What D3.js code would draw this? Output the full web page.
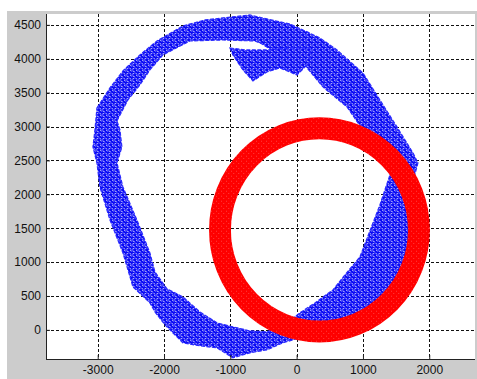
<!DOCTYPE html>
<html>
<head>
<meta charset="utf-8">
<script src="https://cdn.jsdelivr.net/npm/d3@7"></script>
<style>
  body { margin: 0; background: #fff; }
  svg { display: block; }
  .tick text { font-family: "Liberation Sans", Arial, sans-serif; font-size: 12px; fill: #111; }
</style>
</head>
<body>
<svg id="chart" width="477" height="379"></svg>
<script>
// axis ticks
const xTicks = [-3000, -2000, -1000, 0, 1000, 2000];
const yTicks = [0, 500, 1000, 1500, 2000, 2500, 3000, 3500, 4000, 4500];

// blue trajectory band: outer and inner outline of the loop
const loopOuter = [
  [-3012, 3274], [-2816, 3569], [-2620, 3820], [-2364, 4056], [-2107, 4262], [-1715, 4484],
  [-1383, 4572], [-1112, 4602], [-704, 4646], [-448, 4587], [-101, 4513], [95, 4425],
  [351, 4307], [608, 4130], [1000, 3790], [1256, 3392], [1513, 2994], [1754, 2611],
  [1830, 2463], [1739, 2139], [1709, 1475], [1633, 1032], [1513, 590], [1256, 354],
  [955, 206], [548, 118], [201, -74], [-56, -147], [-207, -192], [-448, -295],
  [-704, -339], [-961, -413], [-1202, -265], [-1459, -236], [-1715, -192], [-1986, 74],
  [-2137, 265], [-2213, 398], [-2469, 634], [-2620, 1136], [-2816, 1622], [-2967, 2109],
  [-3012, 2463], [-3072, 2699], [-3042, 2950]
];
const loopInner = [
  [-2710, 3083], [-2545, 3392], [-2364, 3613], [-2213, 3835], [-2017, 4056], [-1609, 4262],
  [-1112, 4277], [-629, 4262], [-523, 4218], [-252, 4056], [95, 3938], [397, 3584],
  [759, 3289], [1000, 2950], [1302, 2611], [1407, 2286], [1256, 1844], [1151, 1578],
  [955, 1077], [729, 811], [548, 590], [276, 398], [50, 251], [-146, 103],
  [-448, -29], [-704, -15], [-961, 44], [-1202, 103], [-1459, 265], [-1715, 487],
  [-1956, 605], [-2137, 855], [-2213, 1136], [-2409, 1622], [-2620, 2109], [-2710, 2463],
  [-2635, 2699], [-2665, 2950]
];
// hook where the trajectory starts
const hook = [
  [-1006, 4159], [-780, 4130], [-448, 4130], [-101, 4159], [201, 4159],
  [201, 3953], [5, 3761], [-252, 3864], [-448, 3805], [-659, 3673], [-810, 3835], [-961, 4056]
];

// red ring: centre, inner and outer radius
const ringCentre = [344, 1475];
const ringRadii = [1335, 1665];

const svg = d3.select("#chart");
const W = 477, H = 379;
const plot = { left: 46, right: 475, top: 14, bottom: 359 };

// figure background
svg.append("rect").attr("x", 7).attr("y", 11).attr("width", W - 7).attr("height", H - 11).attr("fill", "#cccccc");
svg.append("rect").attr("x", plot.left).attr("y", plot.top)
  .attr("width", plot.right - plot.left).attr("height", plot.bottom - plot.top).attr("fill", "#fff");

const x = d3.scaleLinear().domain([-3780, 2690]).range([plot.left, plot.right]);
const y = d3.scaleLinear().domain([-430, 4660]).range([plot.bottom, plot.top]);

// mesh texture for the trajectory
const defs = svg.append("defs");
const pat = defs.append("pattern").attr("id", "mesh").attr("patternUnits", "userSpaceOnUse")
  .attr("width", 6).attr("height", 5);
pat.append("rect").attr("width", 6).attr("height", 5).attr("fill", "#0a0af5");
pat.append("path").attr("d", "M0.5,0.8 l2.2,1 M3.6,2.8 l1.4,1.8 M0.3,4.2 l2,-0.9 M4.2,0.4 l1.5,0.7")
  .attr("stroke", "#fff").attr("stroke-width", 0.9).attr("stroke-opacity", 0.85);
const pat2 = defs.append("pattern").attr("id", "ringTex").attr("patternUnits", "userSpaceOnUse")
  .attr("width", 5).attr("height", 5);
pat2.append("rect").attr("width", 5).attr("height", 5).attr("fill", "#ff0000");
pat2.append("path").attr("d", "M1,1 l0.8,0.4 M3.5,3.2 l0.6,0.8")
  .attr("stroke", "#fff").attr("stroke-width", 0.6).attr("stroke-opacity", 0.5);

// grid
const grid = svg.append("g").attr("stroke", "#111").attr("stroke-width", 1).attr("stroke-dasharray", "3,2");
grid.selectAll(".gx").data(xTicks).enter().append("line")
  .attr("x1", d => Math.round(x(d)) + 0.5).attr("x2", d => Math.round(x(d)) + 0.5)
  .attr("y1", plot.top).attr("y2", plot.bottom);
grid.selectAll(".gy").data(yTicks).enter().append("line")
  .attr("y1", d => Math.round(y(d)) + 0.5).attr("y2", d => Math.round(y(d)) + 0.5)
  .attr("x1", plot.left).attr("x2", plot.right);

// trajectory
const toPath = pts => "M" + pts.map(p => `${x(p[0])},${y(p[1])}`).join("L") + "Z";
svg.append("path")
  .attr("d", toPath(loopOuter) + toPath(loopInner))
  .attr("fill", "url(#mesh)").attr("fill-rule", "evenodd")
  .attr("stroke", "#2a2aff").attr("stroke-width", 1.2).attr("stroke-dasharray", "4,1.5");
svg.append("path")
  .attr("d", toPath(hook))
  .attr("fill", "url(#mesh)").attr("stroke", "#2a2aff").attr("stroke-width", 1.2).attr("stroke-dasharray", "4,1.5");

// ring
const midR = (ringRadii[0] + ringRadii[1]) / 2;
svg.append("ellipse")
  .attr("cx", x(ringCentre[0])).attr("cy", y(ringCentre[1]))
  .attr("rx", x(ringCentre[0] + midR) - x(ringCentre[0]))
  .attr("ry", y(ringCentre[1]) - y(ringCentre[1] + midR))
  .attr("fill", "none").attr("stroke", "url(#ringTex)")
  .attr("stroke-width", x(ringRadii[1]) - x(ringRadii[0]));

// axes
const fmt = d => String(d);
svg.append("g").attr("transform", `translate(0,${plot.bottom})`)
  .call(d3.axisBottom(x).tickValues(xTicks).tickFormat(fmt).tickSize(-4).tickSizeOuter(0).tickPadding(6))
  .call(g => g.selectAll("line, path").attr("stroke", "#222"))
  .call(g => g.select(".domain").attr("d", `M${plot.left},0.5H${plot.right}`));
svg.append("g").attr("transform", `translate(${plot.left},0)`)
  .call(d3.axisLeft(y).tickValues(yTicks).tickFormat(fmt).tickSize(-4).tickSizeOuter(0).tickPadding(5))
  .call(g => g.selectAll("line, path").attr("stroke", "#222"))
  .call(g => g.select(".domain").attr("d", `M0.5,${plot.top}V${plot.bottom}`));
</script>
</body>
</html>
